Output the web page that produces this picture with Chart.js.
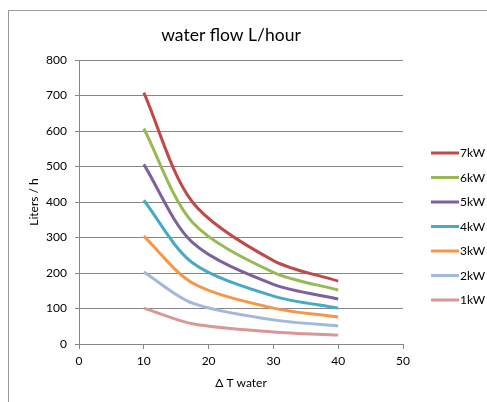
<!DOCTYPE html>
<html>
<head>
<meta charset="utf-8">
<script src="https://cdn.jsdelivr.net/npm/chart.js@4/dist/chart.umd.min.js"></script>
<style>
    html, body { margin: 0; padding: 0; background: #fff; overflow: hidden; }
    #wrap { position: relative; width: 487px; height: 402px; }
    #frame { position: absolute; left: 8px; top: 10px; width: 600px; height: 500px; border: 1px solid #9a9a9a; }
    #flow { position: absolute; left: 0; top: 0; }
</style>
</head>
<body>
<div id="wrap">
    <div id="frame"></div>
    <canvas id="flow" width="487" height="402"></canvas>
</div>
<script>
const deltaT = [10, 17.5, 30, 40];
const kw7 = [708, 400, 235, 177];
const kw6 = [607, 343, 202, 152];
const kw5 = [506, 286, 168, 127];
const kw4 = [405, 229, 135, 101];
const kw3 = [304, 172, 101, 76];
const kw2 = [203, 115, 68, 51];
const kw1 = [101, 57, 34, 25];
const seriesNames = ['7kW', '6kW', '5kW', '4kW', '3kW', '2kW', '1kW'];
const seriesValues = [kw7, kw6, kw5, kw4, kw3, kw2, kw1];
const seriesColors = ['#be4b48', '#98b954', '#7d60a0', '#46aac5', '#f79646', '#a3b8db', '#d99795'];

window.addEventListener('load', function () {

    const font = 'Lato, "Open Sans", sans-serif';

    const datasets = seriesNames.map(function (name, i) {
        return {
            label: name,
            data: deltaT.map(function (x, j) { return { x: x, y: seriesValues[i][j] }; }),
            borderColor: seriesColors[i],
            backgroundColor: seriesColors[i],
            borderWidth: 3,
            pointRadius: 0,
            tension: 0.3,
            fill: false
        };
    });

    // legend drawn like excel: short line then label, at the right
    const sideLegend = {
        id: 'sideLegend',
        afterDraw: function (chart) {
            const ctx = chart.ctx;
            ctx.save();
            ctx.font = '12px ' + font;
            ctx.textBaseline = 'middle';
            ctx.textAlign = 'left';
            chart.data.datasets.forEach(function (ds, i) {
                const y = 153 + i * 24.5;
                ctx.strokeStyle = ds.borderColor;
                ctx.lineWidth = 3;
                ctx.beginPath();
                ctx.moveTo(431, y);
                ctx.lineTo(459, y);
                ctx.stroke();
                ctx.fillStyle = '#000';
                ctx.fillText(ds.label, 460, y + 0.5);
            });
            ctx.restore();
        }
    };

    const ctx = document.getElementById('flow').getContext('2d');

    const flowChart = new Chart(ctx, {
        type: 'line',
        data: { datasets: datasets },
        options: {
            responsive: false,
            animation: false,
            layout: { padding: { left: 0, right: 25, top: 0, bottom: 0 } },
            plugins: {
                legend: { display: false },
                tooltip: { enabled: false },
                title: {
                    display: true,
                    text: 'water flow L/hour',
                    color: '#000',
                    font: { family: font, size: 17.5, weight: 'normal' },
                    padding: { top: 24.5, bottom: 14.5 }
                }
            },
            scales: {
                x: {
                    type: 'linear',
                    min: 0,
                    max: 50,
                    ticks: { stepSize: 10, color: '#000', font: { family: font, size: 12 }, padding: 5 },
                    grid: { drawOnChartArea: false, drawTicks: true, tickLength: 5, color: '#878787' },
                    border: { color: '#878787' },
                    title: {
                        display: true,
                        text: 'Δ T water',
                        color: '#000',
                        font: { family: font, size: 12 },
                        padding: { top: 0, bottom: 12 }
                    },
                    afterFit: function (scale) { scale.height = 58; }
                },
                y: {
                    min: 0,
                    max: 800,
                    ticks: { stepSize: 100, color: '#000', font: { family: font, size: 12 }, padding: 8 },
                    grid: { color: '#878787', tickLength: 4 },
                    border: { color: '#878787' },
                    title: {
                        display: true,
                        text: 'Liters / h',
                        color: '#000',
                        font: { family: font, size: 12 },
                        padding: { top: 27, bottom: 0 }
                    },
                    afterFit: function (scale) { scale.width = 79; }
                },
                // empty right axis, only reserves room for the legend
                side: {
                    position: 'right',
                    min: 0,
                    max: 800,
                    ticks: { display: false },
                    grid: { drawOnChartArea: false, drawTicks: false },
                    border: { display: false },
                    afterFit: function (scale) { scale.width = 59; }
                }
            }
        },
        plugins: [sideLegend]
    });
});
</script>
</body>
</html>
